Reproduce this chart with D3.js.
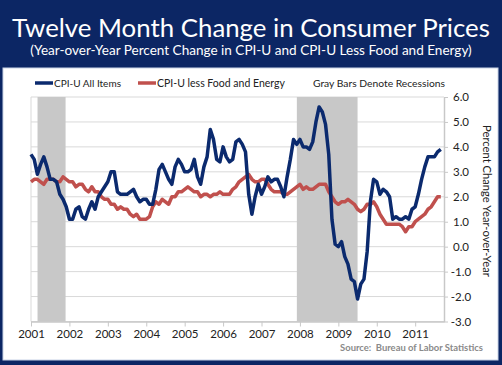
<!DOCTYPE html>
<html>
<head>
<meta charset="utf-8">
<script src="https://cdn.jsdelivr.net/npm/d3@7"></script>
<style>
  body { margin: 0; background: #0c2664; }
  svg { display: block; }
  text { font-family: Lato, "Open Sans", sans-serif; }
</style>
</head>
<body>
<div id="chart"></div>
<script>
// year-over-year % change, monthly from Jan 2001 to Sep 2011
var allItems = [
  3.7, 3.5, 2.9, 3.3, 3.6, 3.2, 2.7, 2.7, 2.6, 2.1, 1.9, 1.6,
  1.1, 1.1, 1.5, 1.6, 1.2, 1.1, 1.5, 1.8, 1.5, 2.0, 2.2, 2.4,
  2.6, 3.0, 3.0, 2.2, 2.1, 2.1, 2.1, 2.2, 2.3, 2.0, 1.8, 1.9,
  1.9, 1.7, 1.7, 2.3, 3.1, 3.3, 3.0, 2.7, 2.5, 3.2, 3.5, 3.3,
  3.0, 3.0, 3.1, 3.5, 2.8, 2.5, 3.2, 3.6, 4.7, 4.3, 3.5, 3.4,
  4.0, 3.6, 3.4, 3.5, 4.2, 4.3, 4.1, 3.8, 2.1, 1.3, 2.0, 2.5,
  2.1, 2.4, 2.8, 2.6, 2.7, 2.7, 2.4, 2.0, 2.8, 3.5, 4.3, 4.1,
  4.3, 4.0, 4.0, 3.9, 4.2, 5.0, 5.6, 5.4, 4.9, 3.7, 1.1, 0.1,
  0.0, 0.2, -0.4, -0.7, -1.3, -1.4, -2.1, -1.5, -1.3, -0.2, 1.8, 2.7,
  2.6, 2.1, 2.3, 2.2, 2.0, 1.1, 1.2, 1.1, 1.1, 1.2, 1.1, 1.5,
  1.6, 2.1, 2.7, 3.2, 3.6, 3.6, 3.6, 3.8, 3.9
];
var lessFoodEnergy = [
  2.6, 2.7, 2.7, 2.6, 2.5, 2.7, 2.7, 2.7, 2.6, 2.6, 2.8, 2.7,
  2.6, 2.6, 2.4, 2.5, 2.5, 2.3, 2.2, 2.4, 2.2, 2.2, 2.0, 1.9,
  1.9, 1.7, 1.7, 1.5, 1.6, 1.5, 1.5, 1.3, 1.2, 1.3, 1.1, 1.1,
  1.1, 1.2, 1.6, 1.8, 1.7, 1.9, 1.8, 1.7, 2.0, 2.0, 2.2, 2.2,
  2.3, 2.4, 2.3, 2.2, 2.2, 2.0, 2.1, 2.1, 2.0, 2.1, 2.1, 2.2,
  2.1, 2.1, 2.1, 2.3, 2.4, 2.6, 2.7, 2.8, 2.9, 2.7, 2.6, 2.6,
  2.7, 2.7, 2.5, 2.3, 2.2, 2.2, 2.2, 2.1, 2.1, 2.2, 2.3, 2.4,
  2.5, 2.3, 2.4, 2.3, 2.3, 2.4, 2.5, 2.5, 2.5, 2.2, 2.0, 1.8,
  1.7, 1.8, 1.8, 1.9, 1.8, 1.7, 1.5, 1.4, 1.5, 1.7, 1.7, 1.8,
  1.6, 1.3, 1.1, 0.9, 0.9, 0.9, 0.9, 0.9, 0.8, 0.6, 0.8, 0.8,
  1.0, 1.1, 1.2, 1.3, 1.5, 1.6, 1.8, 2.0, 2.0
];
var yearLabels = ["2001", "2002", "2003", "2004", "2005", "2006", "2007", "2008", "2009", "2010", "2011"];
var yTicks = [6, 5, 4, 3, 2, 1, 0, -1, -2, -3];
// recessions as [start, end] in decimal years
var recessions = [[2001.17, 2001.9], [2007.92, 2009.5]];
var seriesNames = ["CPI-U All Items", "CPI-U less Food and Energy"];

var width = 502, height = 365;
var navy = "#0c2664", blue = "#0b2a6e", red = "#c0504d";

var svg = d3.select("#chart").append("svg")
  .attr("width", width)
  .attr("height", height);

svg.append("rect").attr("width", width).attr("height", height).attr("fill", navy);
svg.append("rect")
  .attr("x", 3).attr("y", 68).attr("width", 495).attr("height", 292)
  .attr("fill", "#fff").attr("stroke", "#c9d3e6").attr("stroke-width", 1);

// scale font size so text fills a given width
function fit(t, w) {
  var fs = parseFloat(t.attr("font-size"));
  var len = t.node().getComputedTextLength();
  t.attr("font-size", (fs * w / len).toFixed(2));
}

var title = svg.append("text")
  .attr("x", 251).attr("y", 37)
  .attr("text-anchor", "middle")
  .attr("fill", "#fff").attr("font-size", 26)
  .text("Twelve Month Change in Consumer Prices");
fit(title, 478);

var sub = svg.append("text")
  .attr("x", 251).attr("y", 55)
  .attr("text-anchor", "middle")
  .attr("fill", "#fff").attr("font-size", 14)
  .text("(Year-over-Year Percent Change in CPI-U and CPI-U Less Food and Energy)");
fit(sub, 442);

var x = d3.scaleLinear().domain([2001, 2011.75]).range([31, 444]);
var y = d3.scaleLinear().domain([-3, 6]).range([321.5, 97]);

// gridlines
svg.append("g").selectAll("line")
  .data(yTicks)
  .enter().append("line")
  .attr("x1", x.range()[0]).attr("x2", x.range()[1])
  .attr("y1", function(d) { return y(d); })
  .attr("y2", function(d) { return y(d); })
  .attr("stroke", "#d9d9d9").attr("stroke-width", 1);

// recession bars
svg.append("g").selectAll("rect")
  .data(recessions)
  .enter().append("rect")
  .attr("x", function(d) { return x(d[0]); })
  .attr("width", function(d) { return x(d[1]) - x(d[0]); })
  .attr("y", y(6))
  .attr("height", y(-3) - y(6))
  .attr("fill", "#c8c8c8");

// left frame line
svg.append("line")
  .attr("x1", x.range()[0]).attr("x2", x.range()[0])
  .attr("y1", y(6)).attr("y2", y(-3))
  .attr("stroke", "#d9d9d9");

// x axis
var xAxis = d3.axisBottom(x)
  .tickValues(d3.range(2001, 2012))
  .tickFormat(function(d, i) { return yearLabels[i]; })
  .tickSize(5)
  .tickSizeOuter(0);
var gx = svg.append("g")
  .attr("transform", "translate(0," + y(-3) + ")")
  .call(xAxis);
gx.select(".domain").attr("stroke", "#c8c8c8").attr("stroke-width", 1.5);
gx.selectAll(".tick line").attr("stroke", "#c8c8c8");
gx.selectAll(".tick text")
  .attr("y", 8)
  .attr("font-family", "Lato, sans-serif")
  .attr("font-size", 11.5)
  .attr("fill", "#222");

// right axis
var yAxis = d3.axisRight(y)
  .tickValues(yTicks)
  .tickFormat(d3.format(".1f"))
  .tickSize(4)
  .tickSizeOuter(0);
var gy = svg.append("g")
  .attr("transform", "translate(" + x.range()[1] + ",0)")
  .call(yAxis);
gy.select(".domain").attr("stroke", "#c8c8c8").attr("stroke-width", 1.5);
gy.selectAll(".tick line").attr("stroke", "#c8c8c8");
gy.selectAll(".tick text")
  .attr("x", 17)
  .attr("text-anchor", "middle")
  .attr("dx", "0")
  .attr("font-family", "Lato, sans-serif")
  .attr("font-size", 11.5)
  .attr("fill", "#222")
  .text(function(d) { return d3.format(".1f")(d).replace("\u2212", "-"); });

var ytitle = svg.append("text")
  .attr("transform", "translate(483,201) rotate(90)")
  .attr("text-anchor", "middle")
  .attr("fill", "#222").attr("font-size", 11)
  .text("Percent Change Year-over-Year");
fit(ytitle, 152);

// lines
var line = d3.line()
  .x(function(d, i) { return x(2001 + i / 12); })
  .y(function(d) { return y(d); });

svg.append("path")
  .datum(lessFoodEnergy)
  .attr("d", line)
  .attr("fill", "none")
  .attr("stroke", red)
  .attr("stroke-width", 3.5)
  .attr("stroke-linejoin", "round");

svg.append("path")
  .datum(allItems)
  .attr("d", line)
  .attr("fill", "none")
  .attr("stroke", blue)
  .attr("stroke-width", 3.5)
  .attr("stroke-linejoin", "round");

// legend
var legend = [
  { name: seriesNames[0], color: blue, x: 35, w: 67 },
  { name: seriesNames[1], color: red, x: 138, w: 128 }
];
legend.forEach(function(l) {
  svg.append("line")
    .attr("x1", l.x).attr("x2", l.x + 18)
    .attr("y1", 83).attr("y2", 83)
    .attr("stroke", l.color).attr("stroke-width", 3.5);
  var t = svg.append("text")
    .attr("x", l.x + 19).attr("y", 87)
    .attr("fill", "#222").attr("font-size", 11)
    .text(l.name);
  fit(t, l.w);
});

var note = svg.append("text")
  .attr("x", 313).attr("y", 87)
  .attr("fill", "#222").attr("font-size", 11)
  .text("Gray Bars Denote Recessions");
fit(note, 132);

var src = svg.append("text")
  .attr("x", 483).attr("y", 351)
  .attr("text-anchor", "end")
  .attr("fill", "#8a8a8a").attr("font-size", 9.5)
  .attr("font-weight", "bold")
  .attr("xml:space", "preserve")
  .style("white-space", "pre")
  .text("Source:  Bureau of Labor Statistics");
fit(src, 143);
</script>
</body>
</html>
